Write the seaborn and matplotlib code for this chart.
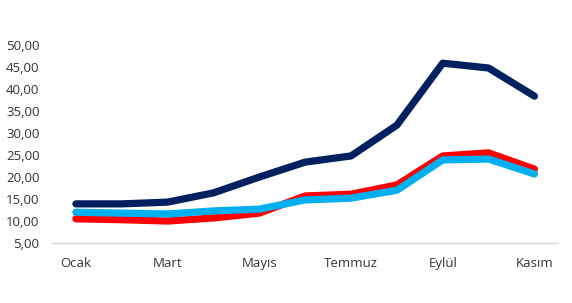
import matplotlib
matplotlib.use("Agg")
import matplotlib.pyplot as plt
import seaborn as sns
import pandas as pd

months = ["Ocak", "Şubat", "Mart", "Nisan", "Mayıs", "Haziran", "Temmuz",
          "Ağustos", "Eylül", "Ekim", "Kasım"]
navy_vals = [13.9, 13.9, 14.3, 16.4, 20.0, 23.4, 24.8, 31.8, 45.9, 44.8, 38.4]
red_vals = [10.5, 10.3, 10.0, 10.7, 11.8, 15.7, 16.1, 18.2, 24.8, 25.5, 21.8]
blue_vals = [12.0, 11.8, 11.6, 12.3, 12.7, 14.8, 15.2, 17.0, 23.9, 24.1, 20.7]
shown_labels = ["Ocak", "Mart", "Mayıs", "Temmuz", "Eylül", "Kasım"]
yticks = [5, 10, 15, 20, 25, 30, 35, 40, 45, 50]

sns.set_theme(style="white")
plt.rcParams['font.family'] = ['Open Sans', 'DejaVu Sans']

fig = plt.figure(figsize=(5.72, 3.03), dpi=100)
ax = fig.add_axes([0.091, 0.198, 0.885, 0.653])

x = list(range(len(months)))
for vals, color in [(navy_vals, "#002060"), (red_vals, "#FF0000"), (blue_vals, "#00B0F0")]:
    df = pd.DataFrame({"x": x, "y": vals})
    sns.lineplot(data=df, x="x", y="y", ax=ax, color=color, linewidth=5.2,
                 solid_capstyle="round", solid_joinstyle="round")

ax.set_xlim(-0.52, 10.52)
ax.set_ylim(5, 50)
ax.set_yticks(yticks)
ax.set_yticklabels([f"{v:.2f}".replace(".", ",") for v in yticks], fontsize=9.5, color="#333333")
ax.set_xticks([months.index(m) for m in shown_labels])
ax.set_xticklabels(shown_labels, fontsize=9.5, color="#333333")
ax.tick_params(axis="x", length=0, pad=10)
ax.tick_params(axis="y", length=0, pad=9)
ax.set_xlabel("")
ax.set_ylabel("")
for s in ["top", "right", "left"]:
    ax.spines[s].set_visible(False)
ax.spines["bottom"].set_color("#D9D9D9")
ax.spines["bottom"].set_linewidth(1)

fig.savefig("out.png", dpi=100)
